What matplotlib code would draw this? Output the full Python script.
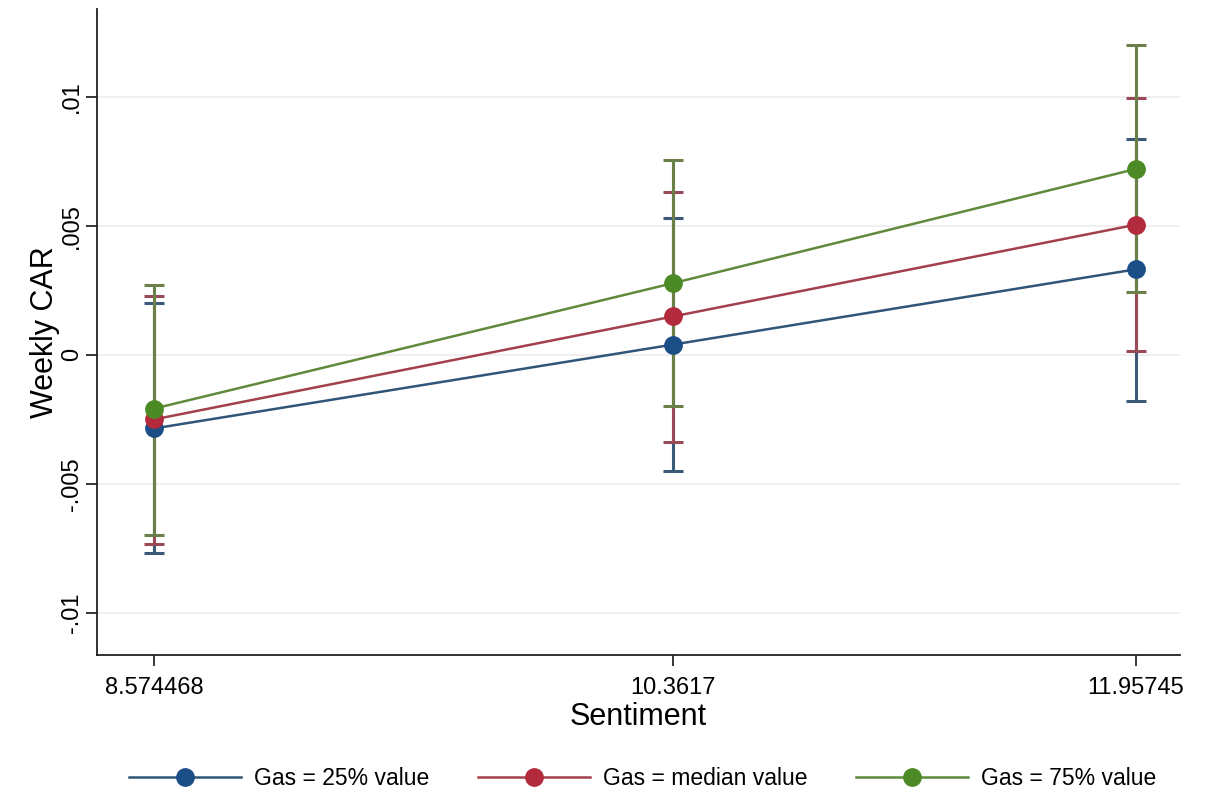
import matplotlib
matplotlib.use("Agg")
import matplotlib.pyplot as plt
from matplotlib.lines import Line2D

# Margins at three sentiment levels, by gas quantile
sentiment = [8.574468, 10.3617, 11.95745]
sentiment_labels = ["8.574468", "10.3617", "11.95745"]

gas25 = [-0.00285, 0.00040, 0.00332]
gas25_lo = [-0.00768, -0.00451, -0.00177]
gas25_hi = [0.00203, 0.00531, 0.00838]

gasmed = [-0.00250, 0.00149, 0.00505]
gasmed_lo = [-0.00733, -0.00336, 0.00017]
gasmed_hi = [0.00230, 0.00631, 0.00995]

gas75 = [-0.00208, 0.00278, 0.00721]
gas75_lo = [-0.00698, -0.00197, 0.00243]
gas75_hi = [0.00273, 0.00756, 0.01203]

series_labels = ["Gas = 25% value", "Gas = median value", "Gas = 75% value"]
yticks = [-0.01, -0.005, 0, 0.005, 0.01]
ytick_labels = ["-.01", "-.005", "0", ".005", ".01"]

plt.rcParams["font.family"] = ["Liberation Sans", "DejaVu Sans"]

fig = plt.figure(figsize=(12.1, 8.01), dpi=100)
ax = fig.add_axes([0.0802, 0.1823, 0.895, 0.8065])

series = [
    (gas25, gas25_lo, gas25_hi, "#1b4e86", "#2f5577", "#3b5a78"),
    (gasmed, gasmed_lo, gasmed_hi, "#b22a3c", "#a2404d", "#9a4a56"),
    (gas75, gas75_lo, gas75_hi, "#4c8a26", "#5f8a3c", "#6b8048"),
]

# confidence interval caps first
for vals, lo, hi, mcol, lcol, ecol in series:
    err = [[v - l for v, l in zip(vals, lo)], [h - v for v, h in zip(vals, hi)]]
    ax.errorbar(sentiment, vals, yerr=err, fmt="none", ecolor=ecol,
                elinewidth=2.2, capsize=7, capthick=2.2, zorder=2)

handles = []
for (vals, lo, hi, mcol, lcol, ecol), lab in zip(series, series_labels):
    ax.plot(sentiment, vals, color=lcol, lw=1.8, zorder=3)
    ax.plot(sentiment, vals, "o", color=mcol, ms=12.5, zorder=4)
    handles.append(Line2D([], [], color=lcol, lw=1.8, marker="o",
                          markerfacecolor=mcol, markeredgecolor=mcol, ms=12.5,
                          label=lab))

ax.set_xlim(8.378, 12.109)
ax.set_ylim(-0.01163, 0.01341)
ax.set_xticks(sentiment)
ax.set_xticklabels(sentiment_labels)
ax.set_yticks(yticks)
ax.set_yticklabels(ytick_labels, rotation=90, va="center")
ax.grid(axis="y", color="#ececec", lw=1.2)
ax.set_axisbelow(True)

for side in ["top", "right"]:
    ax.spines[side].set_visible(False)
for side in ["left", "bottom"]:
    ax.spines[side].set_linewidth(1.3)
    ax.spines[side].set_color("#222222")

ax.tick_params(axis="both", length=8, width=1.1, labelsize=17)
ax.tick_params(axis="x", pad=8)
ax.tick_params(axis="y", pad=2)
ax.set_xlabel("Sentiment", fontsize=22, labelpad=2)
ax.set_ylabel("Weekly CAR", fontsize=22, labelpad=1)

fig.legend(handles=handles, loc="center", bbox_to_anchor=(0.531, 0.028),
           ncol=3, frameon=False, fontsize=16.5, handlelength=4.9,
           handletextpad=0.57, columnspacing=2.1)

fig.savefig("out.png", dpi=100, facecolor="white")
